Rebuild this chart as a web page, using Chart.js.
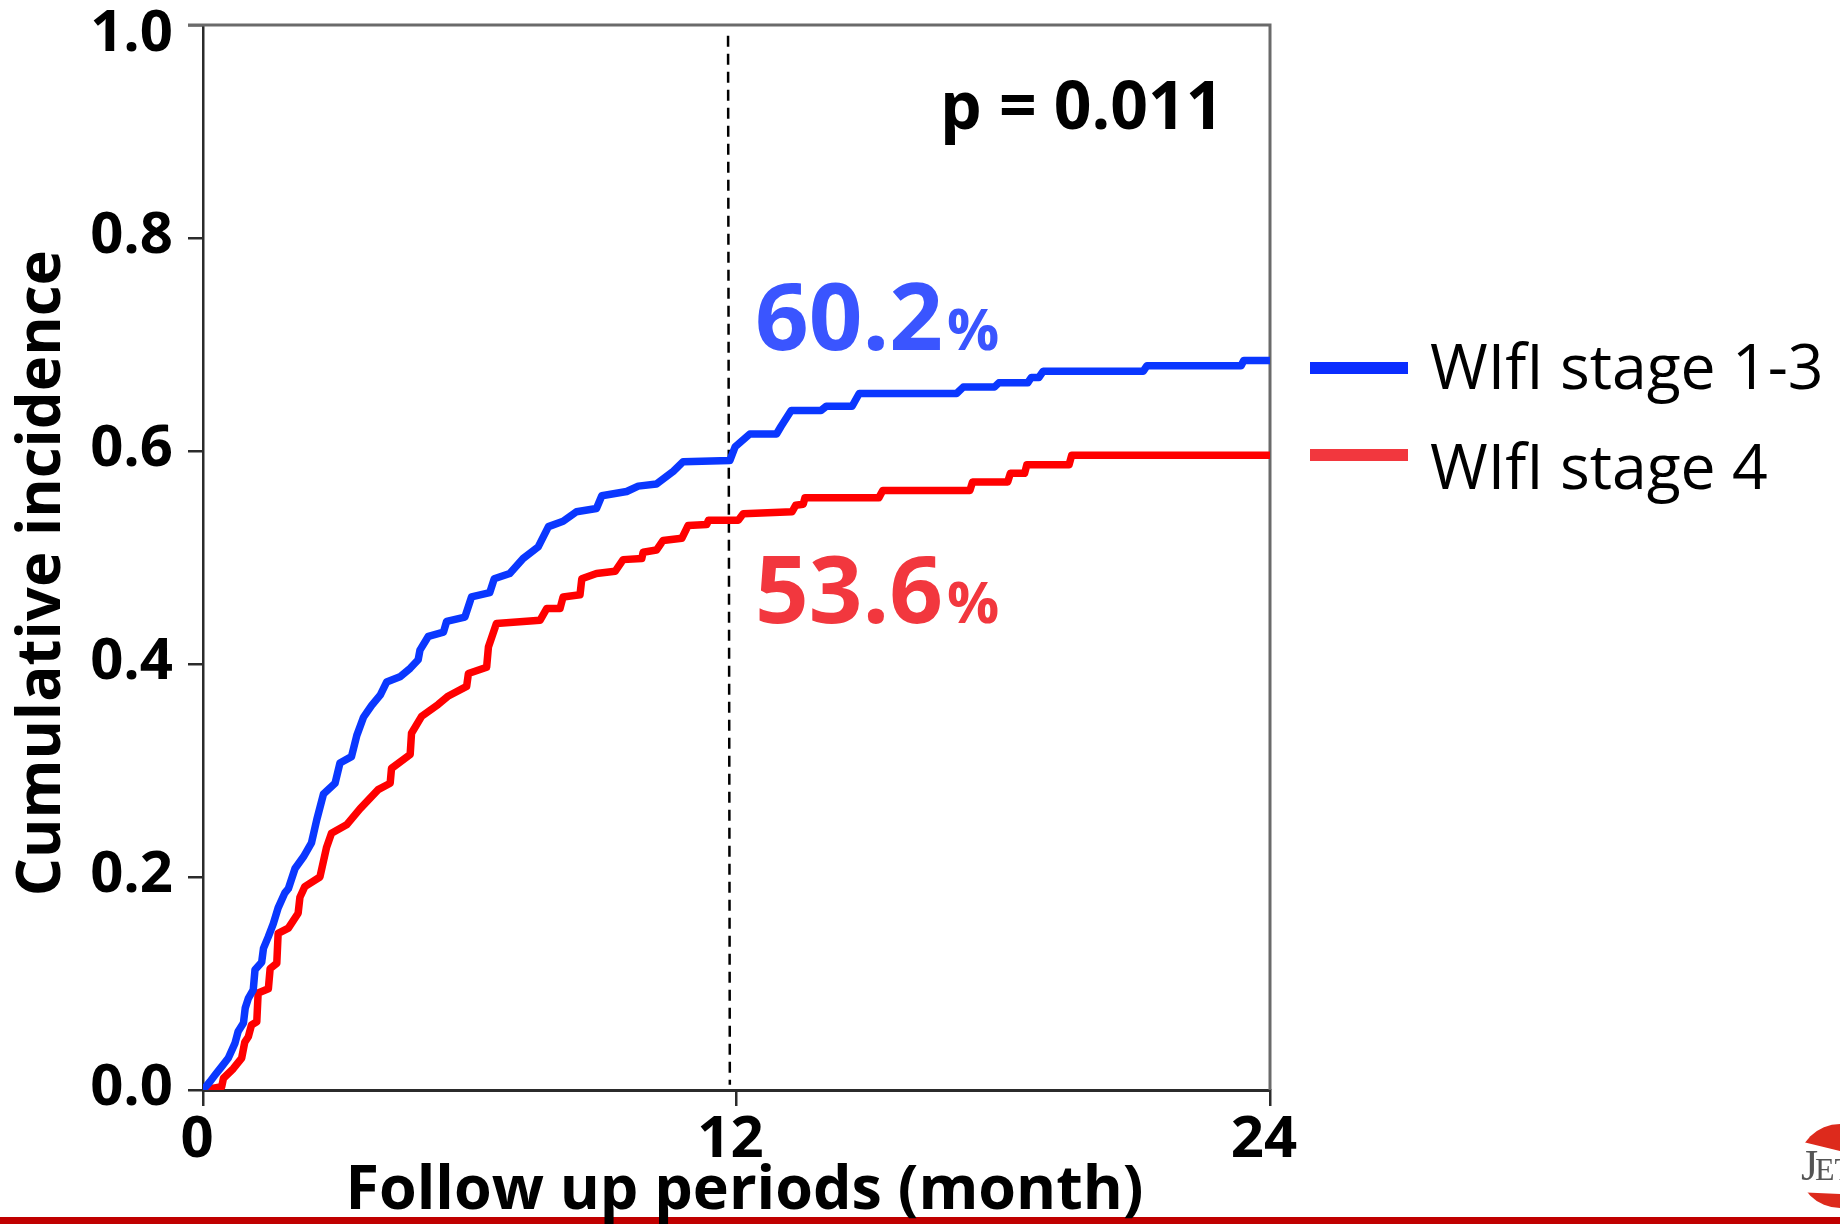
<!DOCTYPE html>
<html>
<head>
<meta charset="utf-8">
<style>
  html, body { margin: 0; padding: 0; background: #fff; }
  canvas { display: block; }
</style>
<script src="https://cdn.jsdelivr.net/npm/chart.js@4/dist/chart.umd.min.js"></script>
</head>
<body>
<canvas id="incidenceChart" width="1840" height="1224"></canvas>
<script>
const monthTicks = [0, 12, 24];
const incidenceTicks = [0, 0.2, 0.4, 0.6, 0.8, 1.0];

// vertices of each trace
const stage13Months = [0, 0.16, 0.27, 0.42, 0.57, 0.72, 0.79, 0.91, 0.95, 1.02, 1.13, 1.17, 1.32, 1.36, 1.47, 1.58, 1.69, 1.84, 1.92, 2.07, 2.26, 2.44, 2.56, 2.71, 2.97, 3.08, 3.34, 3.46, 3.61, 3.79, 3.99, 4.13, 4.43, 4.66, 4.84, 4.88, 5.07, 5.41, 5.48, 5.89, 6.04, 6.45, 6.55, 6.90, 7.20, 7.54, 7.77, 8.10, 8.40, 8.85, 8.97, 9.53, 9.79, 10.2, 10.58, 10.8, 11.85, 11.97, 12.3, 12.9, 13.0, 13.23, 13.9, 14.02, 14.6, 14.76, 16.95, 17.1, 17.8, 17.9, 18.55, 18.63, 18.8, 18.9, 21.15, 21.23, 23.35, 23.41, 24];
const stage13Values = [0, 0.008, 0.014, 0.022, 0.030, 0.044, 0.055, 0.063, 0.077, 0.086, 0.094, 0.113, 0.120, 0.133, 0.144, 0.156, 0.171, 0.185, 0.189, 0.208, 0.219, 0.232, 0.254, 0.278, 0.288, 0.307, 0.313, 0.333, 0.350, 0.361, 0.371, 0.383, 0.388, 0.396, 0.404, 0.413, 0.426, 0.430, 0.440, 0.444, 0.463, 0.467, 0.480, 0.485, 0.499, 0.510, 0.529, 0.534, 0.543, 0.546, 0.558, 0.562, 0.567, 0.569, 0.581, 0.590, 0.591, 0.604, 0.616, 0.616, 0.623, 0.638, 0.638, 0.642, 0.642, 0.654, 0.654, 0.660, 0.660, 0.664, 0.664, 0.669, 0.669, 0.675, 0.675, 0.680, 0.680, 0.685, 0.685];

const stage4Months = [0, 0.42, 0.46, 0.68, 0.87, 0.94, 1.02, 1.09, 1.21, 1.24, 1.47, 1.51, 1.66, 1.69, 1.92, 2.14, 2.18, 2.29, 2.63, 2.78, 2.89, 3.23, 3.53, 3.94, 4.21, 4.24, 4.66, 4.69, 4.92, 5.29, 5.52, 5.93, 5.97, 6.38, 6.42, 6.60, 7.58, 7.73, 8.03, 8.10, 8.48, 8.52, 8.85, 9.27, 9.45, 9.87, 9.90, 10.2, 10.35, 10.77, 10.91, 11.33, 11.37, 12.04, 12.15, 13.25, 13.33, 13.5, 13.54, 15.2, 15.29, 17.25, 17.31, 18.1, 18.16, 18.48, 18.53, 19.48, 19.54, 24];
const stage4Values = [0, 0.003, 0.011, 0.020, 0.030, 0.045, 0.050, 0.061, 0.064, 0.091, 0.095, 0.114, 0.119, 0.147, 0.152, 0.166, 0.181, 0.191, 0.200, 0.228, 0.241, 0.249, 0.264, 0.282, 0.288, 0.302, 0.315, 0.335, 0.351, 0.362, 0.370, 0.379, 0.391, 0.397, 0.416, 0.438, 0.441, 0.452, 0.452, 0.463, 0.465, 0.480, 0.485, 0.487, 0.498, 0.499, 0.505, 0.507, 0.516, 0.518, 0.530, 0.531, 0.535, 0.535, 0.541, 0.543, 0.549, 0.550, 0.556, 0.556, 0.563, 0.563, 0.571, 0.571, 0.579, 0.579, 0.587, 0.587, 0.596, 0.596];

// dashed marker at 12 months, leans a little in the source image
const markerMonths = [11.81, 11.85];
const markerValues = [0.99, 0.005];

const seriesLabels = ['WIfI stage 1-3', 'WIfI stage 4'];
const curveColors = ['#0a37ff', '#ff0000'];
const swatchColors = ['#0a2dff', '#f2373e'];
const pctColors = ['#3a55ff', '#f2373e'];

const toPoints = (xs, ys) => xs.map((x, i) => ({ x: x, y: ys[i] }));

const sans = '"Open Sans", sans-serif';
const darkAxis = '#2b2b2b';

function put(ctx, text, x, y, font, color, align) {
    ctx.font = font;
    ctx.fillStyle = color;
    ctx.textAlign = align || 'left';
    ctx.textBaseline = 'alphabetic';
    ctx.fillText(text, x, y);
}

// frame, annotations, side legend and the bits of the slide around the chart
const slideExtras = {
    id: 'slideExtras',
    beforeDraw(chart) {
        const { ctx } = chart;
        ctx.save();
        ctx.fillStyle = '#c00000';
        ctx.fillRect(0, 1217, 1840, 7);
        ctx.restore();

        // the 1.0 label sits lower than the others in the source
        const items = chart.scales.y.getLabelItems();
        const top = items[items.length - 1];
        if (!top.moved) {
            top.options.translation[1] += 11;
            top.moved = true;
        }
    },
    beforeDatasetsDraw(chart) {
        const { ctx, chartArea: a } = chart;
        ctx.save();
        ctx.strokeStyle = '#6a6a6a';
        ctx.lineWidth = 3;
        ctx.beginPath();
        ctx.moveTo(a.left - 15, a.top);
        ctx.lineTo(a.right, a.top);
        ctx.lineTo(a.right, a.bottom);
        ctx.stroke();
        ctx.restore();
    },
    afterDraw(chart) {
        const { ctx } = chart;
        ctx.save();

        put(ctx, 'p = 0.011', 940, 129, 'bold 66px ' + sans, '#000');

        put(ctx, '60.2', 755, 350, 'bold 94px ' + sans, pctColors[0]);
        put(ctx, '%', 947, 350, 'bold 58px ' + sans, pctColors[0]);
        put(ctx, '53.6', 755, 623, 'bold 94px ' + sans, pctColors[1]);
        put(ctx, '%', 947, 623, 'bold 58px ' + sans, pctColors[1]);

        ctx.fillStyle = swatchColors[0];
        ctx.fillRect(1310, 362, 98, 12);
        ctx.fillStyle = swatchColors[1];
        ctx.fillRect(1310, 449, 98, 12);
        put(ctx, seriesLabels[0], 1430, 389, '62.5px ' + sans, '#000');
        put(ctx, seriesLabels[1], 1430, 489, '62.5px ' + sans, '#000');

        // cropped society logo in the corner
        ctx.fillStyle = '#dd2a1c';
        ctx.beginPath();
        ctx.arc(1840, 1166, 42, 0, Math.PI * 2);
        ctx.fill();
        ctx.fillStyle = '#fff';
        ctx.beginPath();
        ctx.moveTo(1795, 1140);
        ctx.lineTo(1840, 1151);
        ctx.lineTo(1840, 1194);
        ctx.lineTo(1795, 1192);
        ctx.closePath();
        ctx.fill();
        put(ctx, 'J', 1801, 1180, '44px "Liberation Serif", serif', '#555');
        put(ctx, 'ET', 1815, 1180, '32px "Liberation Serif", serif', '#555');
        ctx.restore();
    }
};

new Chart(document.getElementById('incidenceChart'), {
    type: 'line',
    plugins: [slideExtras],
    data: {
        datasets: [
            {
                label: seriesLabels[0],
                data: toPoints(stage13Months, stage13Values),
                borderColor: curveColors[0],
                borderWidth: 7.5,
                borderJoinStyle: 'round',
                pointRadius: 0
            },
            {
                label: seriesLabels[1],
                data: toPoints(stage4Months, stage4Values),
                borderColor: curveColors[1],
                borderWidth: 7.5,
                borderJoinStyle: 'round',
                pointRadius: 0
            },
            {
                label: '12 months',
                data: toPoints(markerMonths, markerValues),
                borderColor: '#000',
                borderWidth: 2.5,
                borderDash: [11, 7],
                pointRadius: 0
            }
        ]
    },
    options: {
        responsive: false,
        animation: false,
        layout: { padding: { left: 0, top: 25, right: 570, bottom: 0 } },
        plugins: {
            legend: { display: false },
            tooltip: { enabled: false }
        },
        scales: {
            x: {
                type: 'linear',
                min: 0,
                max: 24,
                afterBuildTicks: (scale) => { scale.ticks = monthTicks.map(v => ({ value: v })); },
                afterFit: (scale) => {
                    scale.height = 134;
                    scale.paddingLeft = 0;
                    scale.paddingRight = 0;
                },
                border: { color: darkAxis, width: 3 },
                grid: { drawOnChartArea: false, color: darkAxis, lineWidth: 2.5, tickLength: 16 },
                ticks: {
                    color: '#000',
                    font: { family: sans, size: 58, weight: 'bold' },
                    padding: 0,
                    maxRotation: 0,
                    labelOffset: -6
                },
                title: {
                    display: true,
                    // leading space nudges the centred title right, as in the source
                    text: '\u00a0Follow up periods (month)',
                    color: '#000',
                    font: { family: sans, size: 61, weight: 'bold' },
                    padding: { bottom: -4 }
                }
            },
            y: {
                min: 0,
                max: 1,
                afterBuildTicks: (scale) => { scale.ticks = incidenceTicks.map(v => ({ value: v })); },
                afterFit: (scale) => {
                    // the top tick label may overhang, the plot box stays put
                    scale.width = 203;
                    scale.paddingTop = 0;
                    scale.paddingBottom = 0;
                },
                border: { color: darkAxis, width: 2.5 },
                grid: { drawOnChartArea: false, color: darkAxis, lineWidth: 2.5, tickLength: 15 },
                ticks: {
                    color: '#000',
                    font: { family: sans, size: 58, weight: 'bold' },
                    padding: 15,
                    labelOffset: -2,
                    callback: (v) => v.toFixed(1)
                },
                title: {
                    display: true,
                    text: 'Cumulative incidence\u00a0\u00a0',
                    color: '#000',
                    font: { family: sans, size: 60, weight: 'bold' },
                    padding: { top: 7 }
                }
            }
        }
    }
});
</script>
</body>
</html>
